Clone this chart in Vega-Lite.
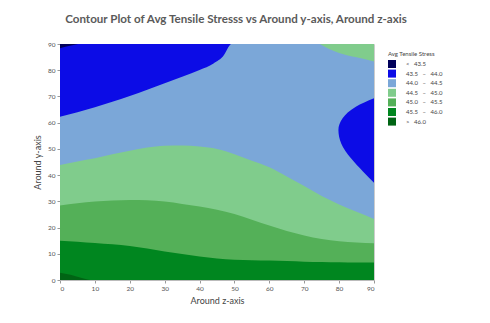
{
  "$schema": "https://vega.github.io/schema/vega-lite/v6.json",
  "width": 314,
  "height": 236,
  "autosize": "none",
  "padding": {"left": 60, "top": 44, "right": 116, "bottom": 43},
  "background": "white",
  "title": {
    "text": "Contour Plot of Avg Tensile Stresss vs Around y-axis, Around z-axis",
    "font": "Lato", "fontSize": 11.6, "fontWeight": "bold", "color": "#5a5a5a",
    "anchor": "middle", "dx": 19, "offset": 15
  },
  "data": {"values": [
    {"piece": "bg", "band": "44.0 – 44.5", "x": 0, "y": 0, "y2": 90},
    {"piece": "bg", "band": "44.0 – 44.5", "x": 90, "y": 0, "y2": 90},

    {"piece": "lg", "band": "44.5 – 45.0", "x": 0, "y": 0, "y2": 43.9},
    {"piece": "lg", "band": "44.5 – 45.0", "x": 5, "y": 0, "y2": 45.2},
    {"piece": "lg", "band": "44.5 – 45.0", "x": 10, "y": 0, "y2": 46.4},
    {"piece": "lg", "band": "44.5 – 45.0", "x": 15, "y": 0, "y2": 48.0},
    {"piece": "lg", "band": "44.5 – 45.0", "x": 20, "y": 0, "y2": 49.3},
    {"piece": "lg", "band": "44.5 – 45.0", "x": 25, "y": 0, "y2": 50.5},
    {"piece": "lg", "band": "44.5 – 45.0", "x": 30, "y": 0, "y2": 51.2},
    {"piece": "lg", "band": "44.5 – 45.0", "x": 35, "y": 0, "y2": 51.3},
    {"piece": "lg", "band": "44.5 – 45.0", "x": 40, "y": 0, "y2": 50.9},
    {"piece": "lg", "band": "44.5 – 45.0", "x": 45, "y": 0, "y2": 50.0},
    {"piece": "lg", "band": "44.5 – 45.0", "x": 50, "y": 0, "y2": 48.0},
    {"piece": "lg", "band": "44.5 – 45.0", "x": 55, "y": 0, "y2": 45.5},
    {"piece": "lg", "band": "44.5 – 45.0", "x": 60, "y": 0, "y2": 43.0},
    {"piece": "lg", "band": "44.5 – 45.0", "x": 65, "y": 0, "y2": 39.5},
    {"piece": "lg", "band": "44.5 – 45.0", "x": 70, "y": 0, "y2": 35.8},
    {"piece": "lg", "band": "44.5 – 45.0", "x": 75, "y": 0, "y2": 32.0},
    {"piece": "lg", "band": "44.5 – 45.0", "x": 80, "y": 0, "y2": 28.8},
    {"piece": "lg", "band": "44.5 – 45.0", "x": 85, "y": 0, "y2": 26.0},
    {"piece": "lg", "band": "44.5 – 45.0", "x": 90, "y": 0, "y2": 23.3},

    {"piece": "mg", "band": "45.0 – 45.5", "x": 0, "y": 0, "y2": 28.4},
    {"piece": "mg", "band": "45.0 – 45.5", "x": 5, "y": 0, "y2": 29.3},
    {"piece": "mg", "band": "45.0 – 45.5", "x": 10, "y": 0, "y2": 29.9},
    {"piece": "mg", "band": "45.0 – 45.5", "x": 15, "y": 0, "y2": 30.3},
    {"piece": "mg", "band": "45.0 – 45.5", "x": 20, "y": 0, "y2": 30.5},
    {"piece": "mg", "band": "45.0 – 45.5", "x": 25, "y": 0, "y2": 30.4},
    {"piece": "mg", "band": "45.0 – 45.5", "x": 30, "y": 0, "y2": 29.9},
    {"piece": "mg", "band": "45.0 – 45.5", "x": 35, "y": 0, "y2": 29.0},
    {"piece": "mg", "band": "45.0 – 45.5", "x": 40, "y": 0, "y2": 28.0},
    {"piece": "mg", "band": "45.0 – 45.5", "x": 45, "y": 0, "y2": 26.8},
    {"piece": "mg", "band": "45.0 – 45.5", "x": 50, "y": 0, "y2": 25.2},
    {"piece": "mg", "band": "45.0 – 45.5", "x": 55, "y": 0, "y2": 23.0},
    {"piece": "mg", "band": "45.0 – 45.5", "x": 60, "y": 0, "y2": 20.8},
    {"piece": "mg", "band": "45.0 – 45.5", "x": 65, "y": 0, "y2": 18.7},
    {"piece": "mg", "band": "45.0 – 45.5", "x": 70, "y": 0, "y2": 17.0},
    {"piece": "mg", "band": "45.0 – 45.5", "x": 75, "y": 0, "y2": 15.6},
    {"piece": "mg", "band": "45.0 – 45.5", "x": 80, "y": 0, "y2": 14.8},
    {"piece": "mg", "band": "45.0 – 45.5", "x": 85, "y": 0, "y2": 14.3},
    {"piece": "mg", "band": "45.0 – 45.5", "x": 90, "y": 0, "y2": 14.0},

    {"piece": "g", "band": "45.5 – 46.0", "x": 0, "y": 0, "y2": 15.0},
    {"piece": "g", "band": "45.5 – 46.0", "x": 5, "y": 0, "y2": 14.6},
    {"piece": "g", "band": "45.5 – 46.0", "x": 10, "y": 0, "y2": 14.1},
    {"piece": "g", "band": "45.5 – 46.0", "x": 15, "y": 0, "y2": 13.6},
    {"piece": "g", "band": "45.5 – 46.0", "x": 20, "y": 0, "y2": 13.0},
    {"piece": "g", "band": "45.5 – 46.0", "x": 25, "y": 0, "y2": 12.0},
    {"piece": "g", "band": "45.5 – 46.0", "x": 30, "y": 0, "y2": 10.9},
    {"piece": "g", "band": "45.5 – 46.0", "x": 35, "y": 0, "y2": 9.9},
    {"piece": "g", "band": "45.5 – 46.0", "x": 40, "y": 0, "y2": 9.0},
    {"piece": "g", "band": "45.5 – 46.0", "x": 45, "y": 0, "y2": 8.2},
    {"piece": "g", "band": "45.5 – 46.0", "x": 50, "y": 0, "y2": 7.7},
    {"piece": "g", "band": "45.5 – 46.0", "x": 55, "y": 0, "y2": 7.5},
    {"piece": "g", "band": "45.5 – 46.0", "x": 60, "y": 0, "y2": 7.4},
    {"piece": "g", "band": "45.5 – 46.0", "x": 65, "y": 0, "y2": 7.2},
    {"piece": "g", "band": "45.5 – 46.0", "x": 70, "y": 0, "y2": 7.0},
    {"piece": "g", "band": "45.5 – 46.0", "x": 75, "y": 0, "y2": 6.9},
    {"piece": "g", "band": "45.5 – 46.0", "x": 80, "y": 0, "y2": 6.8},
    {"piece": "g", "band": "45.5 – 46.0", "x": 85, "y": 0, "y2": 6.7},
    {"piece": "g", "band": "45.5 – 46.0", "x": 90, "y": 0, "y2": 6.7},

    {"piece": "dg", "band": "> 46.0", "x": 0, "y": 0, "y2": 2.8},
    {"piece": "dg", "band": "> 46.0", "x": 3, "y": 0, "y2": 2.0},
    {"piece": "dg", "band": "> 46.0", "x": 6, "y": 0, "y2": 0.9},
    {"piece": "dg", "band": "> 46.0", "x": 8.6, "y": 0, "y2": 0},

    {"piece": "bl", "band": "43.5 – 44.0", "x": 0, "y": 62.3, "y2": 90},
    {"piece": "bl", "band": "43.5 – 44.0", "x": 5, "y": 64.0, "y2": 90},
    {"piece": "bl", "band": "43.5 – 44.0", "x": 10, "y": 65.9, "y2": 90},
    {"piece": "bl", "band": "43.5 – 44.0", "x": 15, "y": 68.0, "y2": 90},
    {"piece": "bl", "band": "43.5 – 44.0", "x": 20, "y": 70.2, "y2": 90},
    {"piece": "bl", "band": "43.5 – 44.0", "x": 25, "y": 72.6, "y2": 90},
    {"piece": "bl", "band": "43.5 – 44.0", "x": 30, "y": 75.0, "y2": 90},
    {"piece": "bl", "band": "43.5 – 44.0", "x": 35, "y": 77.5, "y2": 90},
    {"piece": "bl", "band": "43.5 – 44.0", "x": 40, "y": 80.1, "y2": 90},
    {"piece": "bl", "band": "43.5 – 44.0", "x": 44, "y": 82.6, "y2": 90},
    {"piece": "bl", "band": "43.5 – 44.0", "x": 47, "y": 85.8, "y2": 90},
    {"piece": "bl", "band": "43.5 – 44.0", "x": 48.7, "y": 89.6, "y2": 90},
    {"piece": "bl", "band": "43.5 – 44.0", "x": 49, "y": 90, "y2": 90},

    {"piece": "nv", "band": "< 43.5", "x": 0, "y": 88.4, "y2": 90},
    {"piece": "nv", "band": "< 43.5", "x": 2.5, "y": 89.2, "y2": 90},
    {"piece": "nv", "band": "< 43.5", "x": 5.2, "y": 90, "y2": 90},

    {"piece": "lg2", "band": "44.5 – 45.0", "x": 74.5, "y": 90, "y2": 90},
    {"piece": "lg2", "band": "44.5 – 45.0", "x": 77, "y": 88.2, "y2": 90},
    {"piece": "lg2", "band": "44.5 – 45.0", "x": 80, "y": 86.6, "y2": 90},
    {"piece": "lg2", "band": "44.5 – 45.0", "x": 85, "y": 84.9, "y2": 90},
    {"piece": "lg2", "band": "44.5 – 45.0", "x": 90, "y": 83.3, "y2": 90},

    {"piece": "blob", "band": "43.5 – 44.0", "y": 37.1, "x": 90, "x2": 90},
    {"piece": "blob", "band": "43.5 – 44.0", "y": 41.3, "x": 86.9, "x2": 90},
    {"piece": "blob", "band": "43.5 – 44.0", "y": 46.4, "x": 83.4, "x2": 90},
    {"piece": "blob", "band": "43.5 – 44.0", "y": 52.1, "x": 80.6, "x2": 90},
    {"piece": "blob", "band": "43.5 – 44.0", "y": 57.2, "x": 79.8, "x2": 90},
    {"piece": "blob", "band": "43.5 – 44.0", "y": 61.7, "x": 81.0, "x2": 90},
    {"piece": "blob", "band": "43.5 – 44.0", "y": 66.1, "x": 84.8, "x2": 90},
    {"piece": "blob", "band": "43.5 – 44.0", "y": 69.3, "x": 90, "x2": 90}
  ]},
  "encoding": {
    "x": {
      "field": "x", "type": "quantitative",
      "scale": {"domain": [0, 90], "nice": false, "zero": false},
      "axis": {"title": "Around z-axis", "values": [0, 10, 20, 30, 40, 50, 60, 70, 80, 90], "labelPadding": 2, "titlePadding": 5}
    },
    "y": {
      "field": "y", "type": "quantitative",
      "scale": {"domain": [0, 90], "nice": false, "zero": false},
      "axis": {"title": "Around y-axis", "values": [0, 10, 20, 30, 40, 50, 60, 70, 80, 90], "labelPadding": 2, "titlePadding": 5}
    },
    "color": {
      "field": "band", "type": "nominal",
      "scale": {
        "domain": ["< 43.5", "43.5 – 44.0", "44.0 – 44.5", "44.5 – 45.0", "45.0 – 45.5", "45.5 – 46.0", "> 46.0"],
        "range": ["#00005a", "#0c0ce6", "#7ba7d8", "#80cc8c", "#54b058", "#00861f", "#006414"]
      },
      "legend": {
        "title": "Avg Tensile Stress",
        "orient": "none", "legendX": 328, "legendY": 7,
        "symbolType": "square", "symbolSize": 64, "symbolStrokeWidth": 0,
        "rowPadding": 1.6, "titlePadding": 3,
        "labelFont": "Lato", "labelFontSize": 6, "labelColor": "#444444",
        "titleFont": "Lato", "titleFontSize": 6, "titleFontWeight": "normal", "titleColor": "#444444",
        "labelOffset": 10,
        "labelExpr": "datum.label == '< 43.5' ? '\u2007\u2007\u2007\u2008\u00a0\u00a0\u00a0<\u00a0\u00a0\u00a043.5' : datum.label == '> 46.0' ? '\u2007\u2007\u2007\u2008\u00a0\u00a0\u00a0>\u00a0\u00a0\u00a046.0' : replace(datum.label, ' – ', '\u00a0\u00a0\u00a0–\u00a0\u00a0\u00a0')"
      }
    }
  },
  "layer": [
    {
      "encoding": {"y2": {"field": "y2"}},
      "layer": [
        {"transform": [{"filter": "datum.piece == 'bg'"}], "mark": {"type": "area", "clip": true}},
        {"transform": [{"filter": "datum.piece == 'lg'"}], "mark": {"type": "area", "interpolate": "monotone", "clip": true}},
        {"transform": [{"filter": "datum.piece == 'mg'"}], "mark": {"type": "area", "interpolate": "monotone", "clip": true}},
        {"transform": [{"filter": "datum.piece == 'g'"}], "mark": {"type": "area", "interpolate": "monotone", "clip": true}},
        {"transform": [{"filter": "datum.piece == 'dg'"}], "mark": {"type": "area", "interpolate": "monotone", "clip": true}},
        {"transform": [{"filter": "datum.piece == 'bl'"}], "mark": {"type": "area", "interpolate": "monotone", "clip": true}},
        {"transform": [{"filter": "datum.piece == 'nv'"}], "mark": {"type": "area", "interpolate": "monotone", "clip": true}},
        {"transform": [{"filter": "datum.piece == 'lg2'"}], "mark": {"type": "area", "interpolate": "monotone", "clip": true}}
      ]
    },
    {
      "transform": [{"filter": "datum.piece == 'blob'"}],
      "mark": {"type": "area", "orient": "horizontal", "interpolate": "monotone", "clip": true},
      "encoding": {"x2": {"field": "x2"}}
    }
  ],
  "config": {
    "font": "Lato",
    "view": {"stroke": "#cccccc", "strokeWidth": 1},
    "axis": {
      "grid": false,
      "labelFont": "Lato", "labelFontSize": 6.5, "labelColor": "#555555",
      "tickColor": "#999999", "tickSize": 3,
      "domainColor": "#bbbbbb",
      "titleFont": "Lato", "titleFontSize": 9, "titleFontWeight": "normal", "titleColor": "#444444"
    }
  }
}
